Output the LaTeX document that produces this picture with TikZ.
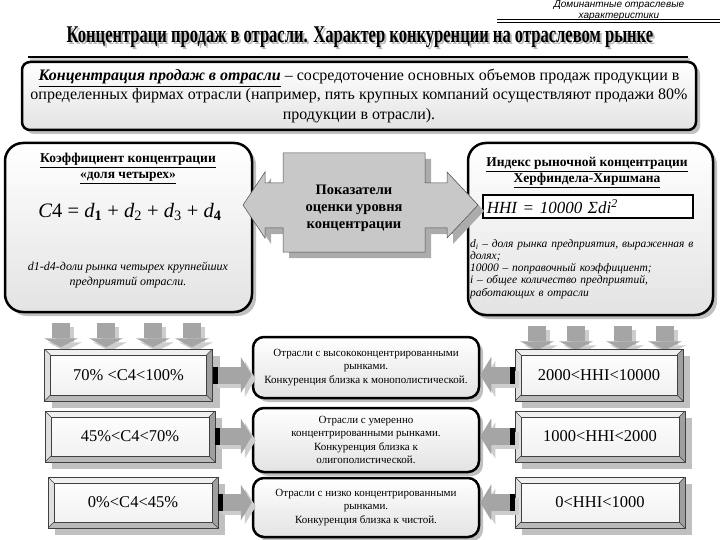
\documentclass[tikz,border=0pt]{standalone}
\usepackage{fontspec}
\setmainfont{Liberation Serif}
\newfontfamily\notefont{Liberation Sans}
\usepackage{amsmath}
\usepackage{graphicx}
\usepackage{tikz}
\usetikzlibrary{shadows,arrows.meta,positioning}
\definecolor{mkShadow}{RGB}{192,192,192}
\definecolor{mkArrow}{RGB}{165,165,165}
\definecolor{mkArrowShade}{RGB}{205,205,205}
\definecolor{mkBody}{RGB}{200,200,200}
\newcommand{\titletext}{\scalebox{0.69}[1]{\fontsize{24}{26}\selectfont\bfseries Концентраци продаж в отрасли. Характер конкуренции на отраслевом рынке}}

\begin{document}
\begin{tikzpicture}[x=1pt, y=-1pt,
  roundbox/.style={draw=black, line width=2.5pt, rounded corners=18pt,
    top color=white, bottom color=gray!22,
    drop shadow={shadow xshift=4pt, shadow yshift=-4pt, fill=mkShadow, opacity=1}},
  midbox/.style={roundbox, rounded corners=11pt, minimum width=226pt, align=center,
    font=\fontsize{11}{13.5}\selectfont},
  bevelbox/.style={draw=gray!50!black, line width=0.5pt, minimum width=168pt, minimum height=52pt,
    font=\fontsize{16.5}{20}\selectfont, top color=white, bottom color=gray!12,
    drop shadow={shadow xshift=7pt, shadow yshift=-7pt, fill=mkShadow, opacity=1},
    path picture={
      \def\bvb{path picture bounding box}
      \fill[gray!12] (\bvb.north west) -- (\bvb.north east) -- ([shift={(-6pt,-6pt)}]\bvb.north east) -- ([shift={(6pt,-6pt)}]\bvb.north west) -- cycle;
      \fill[gray!25] (\bvb.north west) -- (\bvb.south west) -- ([shift={(6pt,6pt)}]\bvb.south west) -- ([shift={(6pt,-6pt)}]\bvb.north west) -- cycle;
      \fill[gray!75] (\bvb.north east) -- (\bvb.south east) -- ([shift={(-6pt,6pt)}]\bvb.south east) -- ([shift={(-6pt,-6pt)}]\bvb.north east) -- cycle;
      \fill[gray!55] (\bvb.south west) -- (\bvb.south east) -- ([shift={(-6pt,6pt)}]\bvb.south east) -- ([shift={(6pt,6pt)}]\bvb.south west) -- cycle;
      \draw[gray!50!black, line width=0.5pt] ([shift={(6pt,-6pt)}]\bvb.north west) rectangle ([shift={(-6pt,6pt)}]\bvb.south east);
      \draw[gray!50!black, line width=0.4pt] (\bvb.north west) -- ++(6pt,-6pt) (\bvb.north east) -- ++(-6pt,-6pt)
        (\bvb.south west) -- ++(6pt,6pt) (\bvb.south east) -- ++(-6pt,6pt);
    }},
  fatarrow/.style={line width=17pt, draw=mkArrow, -{Triangle[length=11pt, width=36pt, line width=0pt]}},
  downarrow/.style={line width=18pt, draw=mkArrow, -{Triangle[length=9pt, width=34pt, line width=0pt]}},
  arrowshade/.style={draw=mkArrowShade, transform canvas={shift={(4pt,-4pt)}}},
  stub/.style={line width=17pt, draw=black, shorten >=0pt}]

\useasboundingbox (0,0) rectangle (720,540);

% heading
\node[font=\notefont\itshape\fontsize{10}{11}\selectfont, align=center] (note) at (619,10.5) {Доминантные отраслевые\\характеристики};
\draw[line width=0.6pt] (497,19) -- (720,19);
\draw[line width=1.4pt] (497,22.5) -- (720,22.5);
\node[text=gray!55] (titleshade) at (362,39.5) {\titletext};
\node (title) at (360,37.5) {\titletext};
\draw[line width=3pt, gray!35] (30,59.5) -- (690,59.5);
\draw[line width=2pt] (28,57) -- (688,57);

% definition
\node[roundbox, rounded corners=8pt, minimum width=674pt, minimum height=68pt, align=center,
  font=\fontsize{16}{19.5}\selectfont] (defn) at (359,96)
  {\underline{\textbf{\textit{Концентрация продаж в отрасли}}} – сосредоточение основных объемов продаж продукции в\\
   определенных фирмах отрасли (например, пять крупных компаний осуществляют продажи 80\%\\
   продукции в отрасли).};

% C4 and HHI boxes
\node[roundbox, minimum width=247pt, minimum height=169pt] (cfour) at (128.5,227.5) {};
\node[font=\bfseries\fontsize{13.5}{16}\selectfont, align=center] (cfourhead) at (128,168.5)
  {\underline{Коэффициент концентрации}\\\underline{«доля четырех»}};
\node[font=\fontsize{20.5}{24}\selectfont] (cfourform) at (130,212)
  {\textit{C}4 = \textit{d}\textsubscript{\textbf{1}} + \textit{d}\textsubscript{2} + \textit{d}\textsubscript{3} + \textit{d}\textsubscript{\textbf{4}}};
\node[font=\itshape\fontsize{12}{15.5}\selectfont, align=center] (cfournote) at (128,275)
  {d1-d4-доли рынка четырех крупнейших\\предприятий отрасли.};

\node[roundbox, minimum width=245pt, minimum height=172pt] (hhi) at (590.5,229) {};
\node[font=\bfseries\fontsize{13.5}{16}\selectfont, align=center] (hhihead) at (587,172.5)
  {\underline{Индекс рыночной концентрации}\\\underline{Херфиндела-Хиршмана}};
\node[draw, line width=1.5pt, fill=white, minimum width=210pt, minimum height=23pt, anchor=west,
  text width=202pt, align=left, font=\itshape\fontsize{17}{19}\selectfont] (hhiform) at (482,206.5)
  {HHI = 10000 Σdi\textsuperscript{2}};
\node[font=\itshape\fontsize{11.5}{12.2}\selectfont, text width=236pt, align=left, inner sep=0pt] (hhinote) at (588,269)
  {\makebox[236pt][s]{d\textsubscript{i} – доля рынка предприятия, выраженная в}\\
   долях;\\
   10000 – поправочный коэффициент;\\
   \makebox[236pt][s]{i – общее количество предприятий,}\\
   работающих в отрасли};

% indicator callout
\fill[gray!65] (289,159) -- (431,159) -- (431,189) -- (453,189) -- (453,178) -- (484,211) -- (453,244) -- (453,234)
  -- (431,234) -- (431,258) -- (289,258) -- (289,234) -- (271,234) -- (271,244) -- (249,211) -- (271,178)
  -- (271,189) -- (289,189) -- cycle;
\filldraw[fill=mkBody, draw=gray!60!black, line width=0.5pt] (283,153) -- (425,153) -- (425,183) -- (447,183) -- (447,172)
  -- (478,205) -- (447,238) -- (447,228) -- (425,228) -- (425,252) -- (283,252) -- (283,228) -- (265,228)
  -- (265,238) -- (243,205) -- (265,172) -- (265,183) -- (283,183) -- cycle;
\node[font=\bfseries\fontsize{14.5}{17}\selectfont, align=center] (ind) at (354,208)
  {Показатели\\оценки уровня\\концентрации};

% down arrows
\foreach \dx in {-67.5,-22.5,24.5,63.5}
  \draw[downarrow, arrowshade] ([xshift=\dx pt, yshift=-10pt]cfour.south) -- ++(0,-24pt);
\foreach \dx in {-53.5,-14.5,32.5,74.5}
  \draw[downarrow, arrowshade] ([xshift=\dx pt, yshift=-10pt]hhi.south) -- ++(0,-24pt);
\foreach \dx in {-67.5,-22.5,24.5,63.5}
  \draw[downarrow] ([xshift=\dx pt, yshift=-10pt]cfour.south) -- ++(0,-24pt);
\foreach \dx in {-53.5,-14.5,32.5,74.5}
  \draw[downarrow] ([xshift=\dx pt, yshift=-10pt]hhi.south) -- ++(0,-24pt);

% ranges
\node[bevelbox] (lb1) at (128.5,375) {70\% <C4<100\%};
\node[bevelbox, minimum width=170pt, minimum height=51pt] (lb2) at (130,436.5) {45\%<C4<70\%};
\node[bevelbox, minimum width=170pt, minimum height=51pt] (lb3) at (133,502.5) {0\%<C4<45\%};
\node[bevelbox] (rb1) at (599,375) {2000<HHI<10000};
\node[bevelbox, minimum width=170pt, minimum height=51pt] (rb2) at (600,436.5) {1000<HHI<2000};
\node[bevelbox, minimum width=170pt, minimum height=51pt] (rb3) at (600,502.5) {0<HHI<1000};

\node[midbox, minimum height=61pt] (mb1) at (366,367.5)
  {Отрасли с высококонцентрированными\\рынками.\\Конкуренция близка к монополистической.};
\node[midbox, minimum height=64pt] (mb2) at (366,440)
  {Отрасли с умеренно\\концентрированными рынками.\\Конкуренция близка к\\олигополистической.};
\node[midbox, minimum height=59pt] (mb3) at (366,507.5)
  {Отрасли с низко концентрированными\\рынками.\\Конкуренция близка к чистой.};

% links to market types
\foreach \i in {1,2,3} {
  \draw[fatarrow, arrowshade] (lb\i.east) -- (lb\i.east -| mb\i.west);
  \draw[fatarrow, arrowshade] (rb\i.west) -- (rb\i.west -| mb\i.east);
  \draw[fatarrow] (lb\i.east) -- (lb\i.east -| mb\i.west);
  \draw[fatarrow] (rb\i.west) -- (rb\i.west -| mb\i.east);
  \draw[stub] (lb\i.east) -- ++(5pt,0);
  \draw[stub] (rb\i.west) -- ++(-5pt,0);
}
\end{tikzpicture}
\end{document}
